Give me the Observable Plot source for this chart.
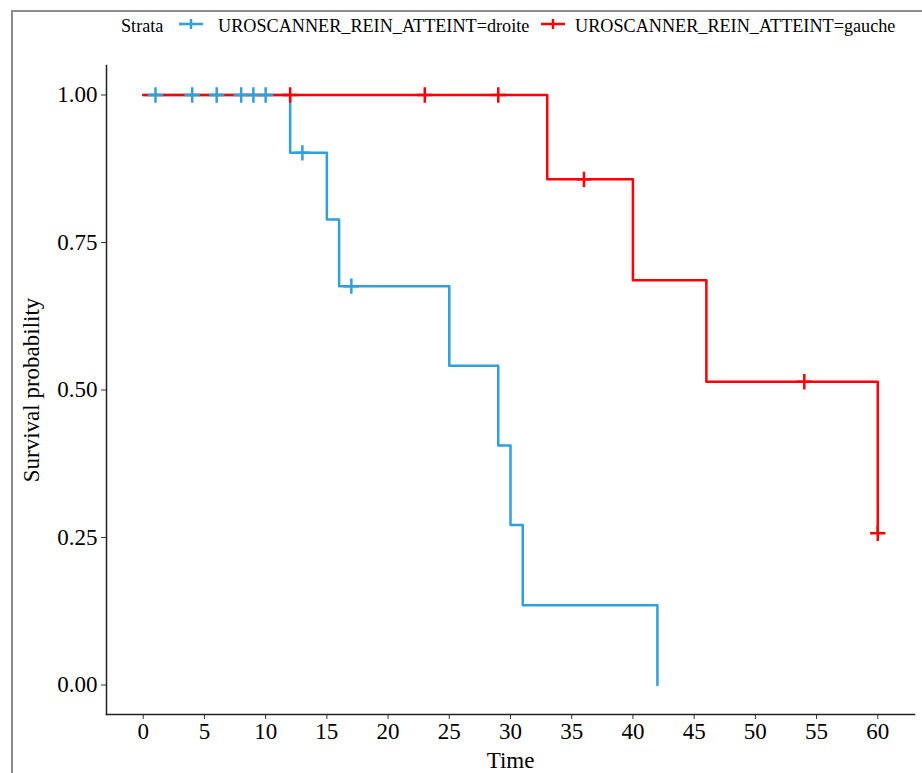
<!DOCTYPE html>
<html><head><meta charset="utf-8">
<script src="https://cdn.jsdelivr.net/npm/d3@7"></script>
<script src="https://cdn.jsdelivr.net/npm/@observablehq/plot@0.6"></script>
<style>
body{margin:0;background:#fff;}
#wrap{position:relative;width:922px;height:773px;overflow:hidden;font-family:"Liberation Serif",serif;color:#000;}
#frame{position:absolute;left:11px;top:10px;width:960px;height:820px;border-left:2px solid #8c8c8c;border-top:2px solid #8c8c8c;}
#chart{position:absolute;left:0;top:0;}
.lg{position:absolute;font-size:18.2px;line-height:1;white-space:nowrap;top:17px;}
.key{position:absolute;top:14px;}
</style>
</head><body>
<div id="wrap">
  <div id="frame"></div>
  <div id="chart"></div>
  <div class="lg" style="left:121px;">Strata</div>
  <svg class="key" style="left:178px" width="26" height="20"><line x1="1" y1="10" x2="25" y2="10" stroke="#2E9FDF" stroke-width="2.5"/><line x1="13" y1="5" x2="13" y2="15" stroke="#2E9FDF" stroke-width="2.5"/></svg>
  <div class="lg" id="l1" style="left:218px;"></div>
  <svg class="key" style="left:540px" width="26" height="20"><line x1="1" y1="10" x2="25" y2="10" stroke="#FF0000" stroke-width="2.5"/><line x1="13" y1="5" x2="13" y2="15" stroke="#FF0000" stroke-width="2.5"/></svg>
  <div class="lg" id="l2" style="left:575px;"></div>
</div>
<script>
const strataNames = ["UROSCANNER_REIN_ATTEINT=droite", "UROSCANNER_REIN_ATTEINT=gauche"];
const strataColors = ["#2E9FDF", "#FF0000"];

const droiteTime = [0, 12, 15, 16, 25, 29, 30, 31, 42];
const droiteSurv = [1, 0.902, 0.789, 0.676, 0.541, 0.406, 0.271, 0.135, 0];
const droiteCensorTime = [1, 4, 6, 8, 9, 10, 13, 17];
const droiteCensorSurv = [1, 1, 1, 1, 1, 1, 0.902, 0.676];

const gaucheTime = [0, 33, 40, 46, 60];
const gaucheSurv = [1, 0.857, 0.686, 0.514, 0.257];
const gaucheCensorTime = [12, 23, 29, 36, 54, 60];
const gaucheCensorSurv = [1, 1, 1, 0.857, 0.514, 0.257];

const xTicks = [0, 5, 10, 15, 20, 25, 30, 35, 40, 45, 50, 55, 60];
const yTicks = [0, 0.25, 0.5, 0.75, 1];

document.getElementById("l1").textContent = strataNames[0];
document.getElementById("l2").textContent = strataNames[1];

const toRows = (t, s) => t.map((d, i) => ({time: d, surv: s[i]}));
const droite = toRows(droiteTime, droiteSurv);
const gauche = toRows(gaucheTime, gaucheSurv);
const droiteC = toRows(droiteCensorTime, droiteCensorSurv);
const gaucheC = toRows(gaucheCensorTime, gaucheCensorSurv);

const chart = Plot.plot({
  width: 922, height: 773,
  marginLeft: 106, marginRight: 8, marginTop: 65, marginBottom: 59,
  x: {domain: [-3, 63]},
  y: {domain: [-0.05, 1.05]},
  style: {fontFamily: "Liberation Serif, serif", fontSize: "23px", color: "#000", background: "transparent"},
  marks: [
    Plot.axisX({ticks: xTicks, tickSize: 5, tickPadding: 3, stroke: "#333", label: "Time", labelAnchor: "center", labelArrow: "none", labelOffset: 53}),
    Plot.axisY({ticks: yTicks, tickFormat: d3.format(".2f"), tickSize: 5, tickPadding: 4, stroke: "#333", label: "Survival probability", labelAnchor: "center", labelArrow: "none", labelOffset: 84}),
    Plot.frame({anchor: "left", stroke: "#222", strokeWidth: 1.5}),
    Plot.frame({anchor: "bottom", stroke: "#222", strokeWidth: 1.5}),
    Plot.line(droite, {x: "time", y: "surv", curve: "step-after", stroke: strataColors[0], strokeWidth: 2.5}),
    Plot.line(gauche, {x: "time", y: "surv", curve: "step-after", stroke: strataColors[1], strokeWidth: 2.5}),
    Plot.dot(droiteC, {x: "time", y: "surv", symbol: "plus", r: 5, stroke: strataColors[0], strokeWidth: 2.5}),
    Plot.dot(gaucheC, {x: "time", y: "surv", symbol: "plus", r: 5, stroke: strataColors[1], strokeWidth: 2.5})
  ]
});
document.getElementById("chart").appendChild(chart);
</script>
</body></html>
